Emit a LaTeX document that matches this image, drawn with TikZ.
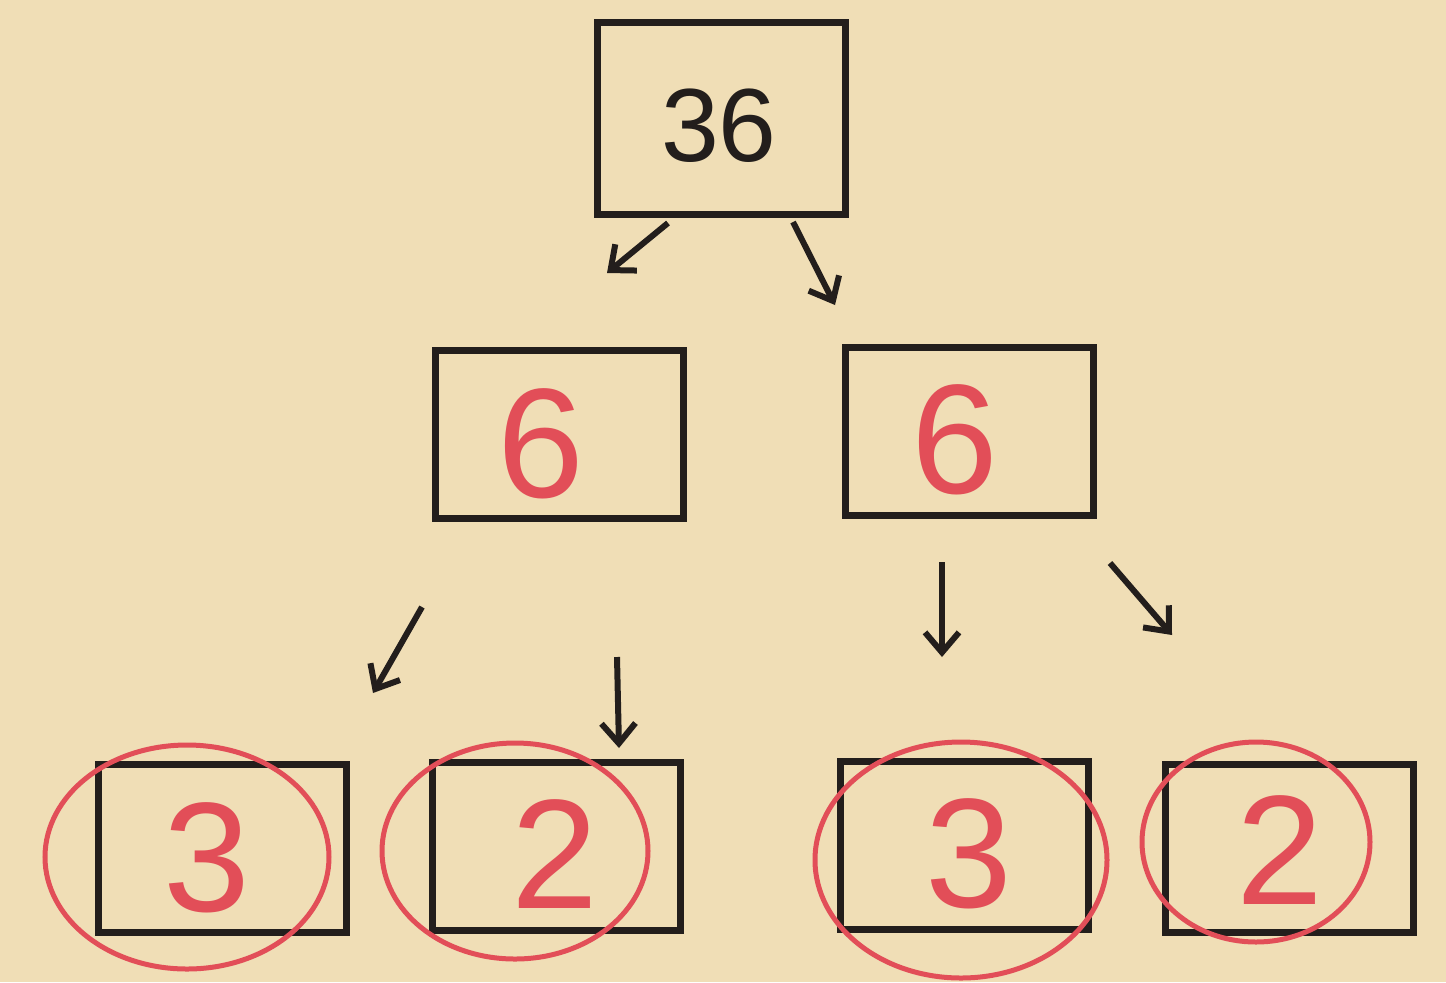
\documentclass[tikz,border=0pt]{standalone}
\usepackage{fontspec}
\setmainfont{Liberation Sans}
\usetikzlibrary{arrows.meta}
\definecolor{paper}{RGB}{240,222,182}
\definecolor{ink}{RGB}{35,30,28}
\definecolor{redink}{RGB}{226,78,88}
\tikzset{
  box/.style={draw=ink, line width=3.5pt, minimum width=124pt, minimum height=84pt, inner sep=0pt},
  arr/.style={draw=ink, line width=3pt, -{Straight Barb[length=10pt,width=17pt,line width=3pt]}},
  ring/.style={draw=redink, line width=2.5pt},
  rednum/.style={text=redink, font=\fontsize{78}{80}\selectfont},
}
\begin{document}
\begin{tikzpicture}[x=0.5pt,y=-0.5pt]
\fill[paper] (0,0) rectangle (1446,982);
\useasboundingbox (0,0) rectangle (1446,982);
\node[box, minimum height=96pt] (top) at (721,118) {};
\node[text=ink, font=\fontsize{52}{54}\selectfont] (toplab) at (719,126) {36};
\node[box] (ml) at (559,434) {};
\node[box] (mr) at (969,431) {};
\node[box] (b1) at (222,848) {};
\node[box] (b2) at (556,846) {};
\node[box] (b3) at (964,845) {};
\node[box] (b4) at (1289,848) {};
\node[rednum] (t6a) at (541,444) {6};
\node[rednum] (t6b) at (955,440) {6};
\node[rednum] (t3a) at (207,858) {3};
\node[rednum] (t2a) at (555,854) {2};
\node[rednum] (t3b) at (969,854) {3};
\node[rednum] (t2b) at (1280,850) {2};
\draw[ring] (187,857) ellipse [x radius=142, y radius=112];
\draw[ring] (515,851) ellipse [x radius=133, y radius=108];
\draw[ring] (961,860) ellipse [x radius=146, y radius=118];
\draw[ring] (1256,842) ellipse [x radius=114, y radius=100];
\coordinate (a1s) at (668,223); \coordinate (a1e) at (607,273);
\coordinate (a2s) at (793,222); \coordinate (a2e) at (835,305);
\coordinate (a3s) at (422,607); \coordinate (a3e) at (373,693);
\coordinate (a4s) at (617,657); \coordinate (a4e) at (619,748);
\coordinate (a5s) at (942,562); \coordinate (a5e) at (942,657);
\coordinate (a6s) at (1110,563); \coordinate (a6e) at (1172,635);
\draw[arr] (a1s) -- (a1e);
\draw[arr] (a2s) -- (a2e);
\draw[arr] (a3s) -- (a3e);
\draw[arr] (a4s) -- (a4e);
\draw[arr] (a5s) -- (a5e);
\draw[arr] (a6s) -- (a6e);
\end{tikzpicture}
\end{document}
